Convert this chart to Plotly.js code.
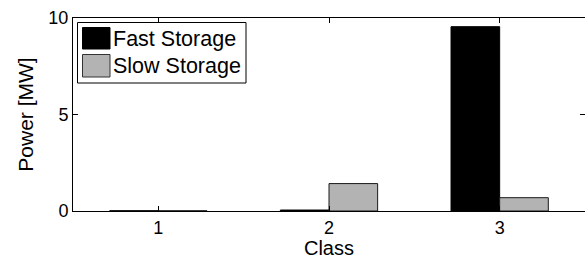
<!DOCTYPE html>
<html>
<head>
<meta charset="utf-8">
<script src="https://cdn.plot.ly/plotly-3.0.1.min.js"></script>
<style>html,body{margin:0;padding:0;background:#fff;}#chart{width:585px;height:259px;}</style>
</head>
<body>
<div id="chart"></div>
<script>
const classes = [1, 2, 3];
const tickLabels = ['1', '2', '3'];
const seriesNames = ['Fast Storage', 'Slow Storage'];
const fastStorage = [0.01, 0.05, 9.55];
const slowStorage = [0.01, 1.42, 0.69];

const FONT = 'Liberation Sans, Arial, sans-serif';
const FAST_COLOR = '#000000';
const SLOW_COLOR = '#b3b3b3';

const traces = [
  {type: 'bar', name: seriesNames[0], x: classes, y: fastStorage,
   marker: {color: FAST_COLOR, line: {color: '#000000', width: 1}}},
  {type: 'bar', name: seriesNames[1], x: classes, y: slowStorage,
   marker: {color: SLOW_COLOR, line: {color: '#1a1a1a', width: 1}}}
];

// MATLAB-style legend box built with paper-referenced shapes and text
const L = {l: 73, t: 18, w: 512, h: 193};
const px = v => (v - L.l) / L.w;
const py = v => (L.t + L.h - v) / L.h;

const shapes = [
  {type: 'rect', xref: 'paper', yref: 'paper', x0: px(77.5), x1: px(246), y0: py(22.5), y1: py(83),
   line: {color: '#000000', width: 1}, fillcolor: '#ffffff'},
  {type: 'rect', xref: 'paper', yref: 'paper', x0: px(82.5), x1: px(110), y0: py(27.5), y1: py(49),
   line: {color: '#000000', width: 1}, fillcolor: FAST_COLOR},
  {type: 'rect', xref: 'paper', yref: 'paper', x0: px(82.5), x1: px(110), y0: py(54.5), y1: py(77),
   line: {color: '#333333', width: 1}, fillcolor: SLOW_COLOR}
];
const annotations = [
  {xref: 'paper', yref: 'paper', x: px(111), y: py(38.5), xanchor: 'left', yanchor: 'middle',
   text: seriesNames[0], showarrow: false, font: {family: FONT, size: 21.5, color: '#000000'}},
  {xref: 'paper', yref: 'paper', x: px(111), y: py(66), xanchor: 'left', yanchor: 'middle',
   text: seriesNames[1], showarrow: false, font: {family: FONT, size: 21.5, color: '#000000'}}
];

const layout = {
  width: 585, height: 259,
  margin: {l: 73, r: 0, t: 18, b: 48, pad: 0},
  paper_bgcolor: '#ffffff', plot_bgcolor: '#ffffff',
  font: {family: FONT, color: '#000000', size: 18},
  barmode: 'group', bargap: 0.43, bargroupgap: 0,
  showlegend: false,
  shapes: shapes,
  annotations: annotations,
  xaxis: {range: [0.5, 3.5], tickvals: classes, ticktext: tickLabels,
    showline: true, linecolor: '#000000', linewidth: 1, mirror: 'ticks',
    ticks: 'inside', ticklen: 5, tickcolor: '#000000', showgrid: false, zeroline: false,
    tickfont: {family: FONT, size: 18},
    title: {text: 'Class', font: {family: FONT, size: 20}, standoff: 3}},
  yaxis: {range: [0, 10], tickvals: [0, 5, 10],
    showline: true, linecolor: '#000000', linewidth: 1, mirror: 'ticks',
    ticks: 'inside', ticklen: 5, tickcolor: '#000000', showgrid: false, zeroline: false,
    tickfont: {family: FONT, size: 18},
    title: {text: 'Power [MW]', font: {family: FONT, size: 21}, standoff: 9}}
};

Plotly.newPlot('chart', traces, layout, {displayModeBar: false, staticPlot: true});
</script>
</body>
</html>
